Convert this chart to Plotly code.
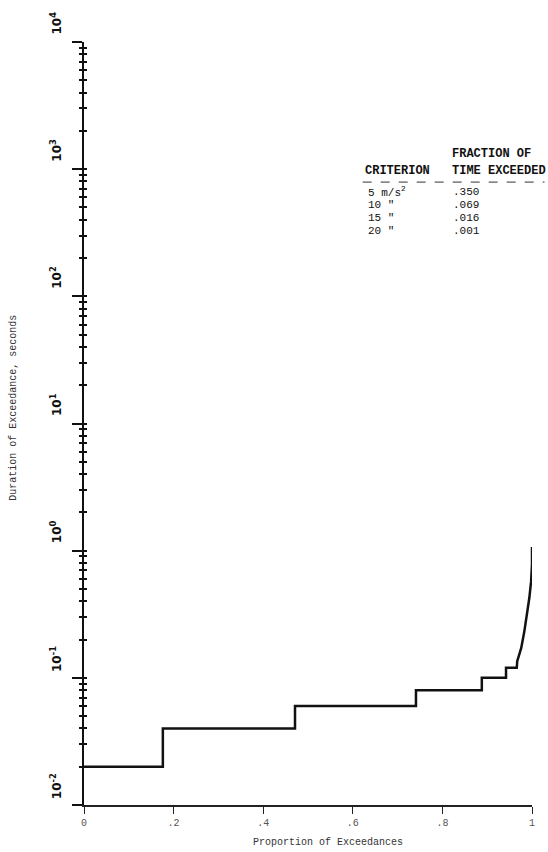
import plotly.graph_objects as go

# Curve data: proportion of exceedances vs duration of exceedance (s)
proportion = [0.0, 0.176, 0.176, 0.471, 0.471, 0.741, 0.741, 0.888, 0.888,
              0.942, 0.942, 0.966, 0.967, 0.976, 0.983, 0.989, 0.994, 0.998, 1.0, 1.0]
duration = [0.02, 0.02, 0.04, 0.04, 0.06, 0.06, 0.08, 0.08, 0.10,
            0.10, 0.12, 0.12, 0.135, 0.172, 0.233, 0.316, 0.424, 0.573, 0.78, 1.07]

# Axis ticks
x_tickvals = [0, 0.2, 0.4, 0.6, 0.8, 1.0]
x_ticktext = ["0", ".2", ".4", ".6", ".8", "1"]
y_exponents = [-2, -1, 0, 1, 2, 3, 4]

# Inset table
table_header_top = ["", "FRACTION OF"]
table_header = ["CRITERION", "TIME EXCEEDED"]
criteria = ["5 m/s<sup>2</sup>", "10 \"", "15 \"", "20 \""]
fractions = [".350", ".069", ".016", ".001"]

y_tickvals = [10.0 ** e for e in y_exponents]
y_ticktext = ["<b>10<sup>%d</sup></b>" % e for e in y_exponents]

fig = go.Figure()
fig.add_trace(go.Scatter(x=proportion, y=duration, mode="lines",
                         line=dict(color="#111111", width=2.5),
                         showlegend=False, hoverinfo="skip"))
# invisible trace to hold the overlay axis for crossing tick marks
fig.add_trace(go.Scatter(x=[0.5], y=[1.0], yaxis="y2", mode="markers",
                         marker=dict(opacity=0), showlegend=False, hoverinfo="skip"))

W, H = 548, 852
L, R, T, B = 84, 15.5, 37, 47
pw, ph = W - L - R, H - T - B

fig.update_layout(
    width=W, height=H,
    margin=dict(l=L, r=R, t=T, b=B),
    paper_bgcolor="white", plot_bgcolor="white",
    xaxis=dict(range=[0, 1], tickvals=x_tickvals, ticktext=x_ticktext,
               showgrid=False, zeroline=False, showline=True,
               linecolor="#222222", linewidth=1.5,
               ticks="outside", ticklen=7, tickcolor="#222222", tickwidth=1,
               tickfont=dict(family="Liberation Mono", size=10, color="#555555")),
    yaxis=dict(type="log", range=[-2, 4], tickvals=y_tickvals, ticktext=y_ticktext,
               showgrid=False, zeroline=False, showline=True,
               linecolor="#111111", linewidth=1.5,
               ticks="outside", ticklen=10, tickcolor="#111111", tickwidth=1.5,
               tickangle=-90, ticklabelshift=-17, ticklabelstandoff=6,
               tickfont=dict(family="DejaVu Sans", size=12, color="#111111"),
               minor=dict(ticks="outside", ticklen=3, tickcolor="#111111", tickwidth=1.5,
                          dtick="D1", showgrid=False)),
    yaxis2=dict(type="log", range=[-2, 4], overlaying="y", side="left", anchor="x",
                showgrid=False, zeroline=False, showline=False, showticklabels=False,
                tickvals=y_tickvals,
                ticks="inside", ticklen=3, tickcolor="#111111", tickwidth=1.5,
                minor=dict(ticks="inside", ticklen=3, tickcolor="#111111", tickwidth=1.5,
                           dtick="D1", showgrid=False)),
)

def px_x(px):
    return (px - L) / pw

def px_y(py):
    return (H - B - py) / ph

annotations = []
# axis titles
annotations.append(dict(text="Proportion of Exceedances", x=px_x(328), y=px_y(843),
                        xref="paper", yref="paper", showarrow=False,
                        xanchor="center", yanchor="middle",
                        font=dict(family="Liberation Mono", size=10, color="#333333")))
annotations.append(dict(text="Duration of Exceedance, seconds", x=px_x(14), y=px_y(405),
                        xref="paper", yref="paper", showarrow=False, textangle=-90,
                        xanchor="center", yanchor="middle",
                        font=dict(family="Liberation Mono", size=10, color="#333333")))

tfont = dict(family="Liberation Mono", size=12, color="#111111")
rfont = dict(family="Liberation Mono", size=11, color="#111111")
col_x = [363, 450]
annotations.append(dict(text="<b>%s</b>" % table_header_top[1], x=px_x(col_x[1]), y=px_y(150),
                        xref="paper", yref="paper", showarrow=False,
                        xanchor="left", yanchor="middle", font=tfont))
for cx, h in zip(col_x, table_header):
    annotations.append(dict(text="<b>%s</b>" % h, x=px_x(cx), y=px_y(167),
                            xref="paper", yref="paper", showarrow=False,
                            xanchor="left", yanchor="middle", font=tfont))
for i, (c, f) in enumerate(zip(criteria, fractions)):
    yy = 188 + 13 * i
    annotations.append(dict(text=c, x=px_x(366), y=px_y(yy), xref="paper", yref="paper",
                            showarrow=False, xanchor="left", yanchor="middle", font=rfont))
    annotations.append(dict(text=f, x=px_x(451), y=px_y(yy), xref="paper", yref="paper",
                            showarrow=False, xanchor="left", yanchor="middle", font=rfont))
fig.update_layout(annotations=annotations)

fig.add_shape(type="line", xref="paper", yref="paper",
              x0=px_x(363), x1=px_x(545), y0=px_y(178), y1=px_y(178),
              line=dict(color="#333333", width=1, dash="dash"))

fig.write_html("out.html", config={"displayModeBar": False},
               post_script="document.body.style.margin='0';document.body.style.overflow='hidden';")
